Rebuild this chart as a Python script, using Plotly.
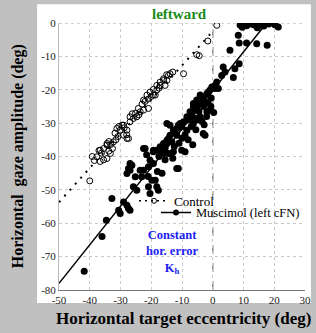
import plotly.graph_objects as go

# ---------------- data ----------------
control_x = [1.3, -1.6, -5.2, -4.4, -9.5, -13.0, -13.9, -14.4, -14.9, -16.0, -17.1, -15.5, -18.2,
             -16.0, -17.1, -18.2, -19.3, -18.7, -20.4, -21.4, -19.3, -20.9, -22.5, -23.6, -22.5,
             -24.2, -24.7, -25.8, -26.9, -26.9, -29.0, -27.9, -29.5, -29.0, -31.2, -27.4, -27.9,
             -28.0, -30.1, -30.8, -32.3, -31.5, -33.2, -32.6, -34.4, -34.4, -35.5, -33.8, -36.6,
             -33.3, -36.2, -34.4, -37.7, -36.6, -38.5, -35.5, -37.0, -40.0, -21.0, -23.0, -25.1,
             -26.2, -28.8, -30.5, -20.0, -22.0, -17.5, -15.0, -31.8, -33.8, -39.2, -24.0]
control_y = [-0.7, -5.4, -9.5, -9.8, -15.2, -14.7, -15.2, -15.7, -17.2, -16.7, -17.7, -18.7, -18.7,
             -17.2, -18.7, -20.1, -19.9, -21.6, -20.7, -21.6, -21.6, -25.6, -23.1, -26.6, -26.1,
             -25.6, -28.1, -28.6, -28.1, -29.6, -30.6, -32.1, -30.6, -33.6, -31.6, -34.6, -34.6,
             -33.5, -32.1, -34.0, -35.6, -35.0, -36.4, -37.6, -36.1, -36.6, -37.6, -38.4, -38.1,
             -39.1, -39.0, -40.6, -40.1, -41.5, -41.2, -41.0, -38.2, -47.3, -22.8, -24.3, -27.0,
             -27.2, -31.4, -31.0, -22.0, -23.5, -19.5, -15.5, -33.0, -35.5, -40.0, -27.5]

musc_x = [8.9, 10.0, 11.0, 12.2, 13.5, 15.4, 16.6, 18.2, 20.2, 21.3, 9.6, 14.5,
          8.3, 8.6, 11.0, 14.3, 17.7, 5.6, 8.6, 7.2, 3.4, 4.0, 2.9, 6.7, 1.3, 0.7, 0.6, -0.3,
          1.8, -0.9, -1.4, -1.9, -3.1, -4.1, -4.7, -3.6, -5.2, -5.2, -6.3, -6.3, -5.7, -0.9,
          -1.9, -7.4, -6.8, -4.1, -8.4, -7.9, -6.3, -9.5, -10.6, -11.2, -10.1, -11.7, -8.4,
          -12.8, -12.2, -3.1, -2.5, -11.7, -13.9, -14.4, -14.9, -13.3, -14.9, -16.0, -17.1,
          -15.5, -22.0, -22.5, -16.6, -18.2, -19.3, -19.3, -14.4, -16.0, -12.8, -10.1, -9.0,
          -14.9, -13.9, -20.4, -19.3, -20.9, -23.6, -26.9, -26.3, -27.4, -22.5, -26.9, -27.9,
          -25.2, -23.1, -19.8, -18.7, -11.2, -11.7, -18.2, -25.8, -20.9, -24.7, -17.7, -20.4,
          -32.8, -29.0, -27.9, -27.4, -30.6, -26.9, -30.1, -34.6, -36.0, -41.8,
          -2.5, -3.0, -4.5, -2.0, -3.5, -5.0, -6.0, -7.0, -5.5, -9.0, -10.0, -8.0, -11.0,
          -12.5, -6.5, -13.0, -15.5, -17.5, -21.5, -18.0, -16.5, -21.0, -0.5, -1.5, -2.8,
          0.3, -0.6]
musc_y = [-0.6, -0.4, -0.8, -0.3, -0.6, -0.4, -0.9, -0.3, -0.5, -1.2, -1.3, -1.4,
          -3.7, -6.0, -6.0, -6.2, -6.7, -8.2, -12.2, -13.7, -13.2, -14.7, -15.7, -16.3, -17.7,
          -18.7, -19.6, -19.2, -19.6, -20.1, -20.7, -21.1, -22.2, -21.6, -23.1, -24.1, -23.1,
          -24.6, -24.1, -25.1, -26.1, -26.1, -26.6, -26.6, -27.6, -28.1, -28.1, -29.1, -30.1,
          -29.6, -30.1, -30.6, -31.1, -31.6, -32.1, -32.1, -33.1, -33.1, -33.6, -33.6, -33.6,
          -34.6, -35.1, -35.6, -36.1, -36.1, -37.1, -37.6, -37.6, -37.6, -38.6, -38.1, -38.6,
          -38.1, -39.1, -39.1, -38.6, -38.1, -38.6, -30.1, -30.6, -41.1, -42.1, -43.1, -44.1,
          -42.1, -42.6, -43.6, -44.1, -44.1, -45.1, -46.1, -46.1, -47.1, -47.1, -43.6, -43.6,
          -49.1, -49.1, -49.1, -50.1, -50.1, -51.1, -52.6, -53.6, -54.6, -55.6, -56.1, -56.1,
          -57.1, -59.1, -64.0, -74.4,
          -23.5, -25.0, -26.5, -28.0, -29.5, -29.0, -28.5, -31.0, -32.0, -33.5, -34.5, -35.0,
          -36.0, -37.0, -36.5, -40.5, -41.0, -40.0, -39.5, -44.5, -45.0, -46.0, -22.5, -24.0,
          -30.5, -26.8, -25.0]

# fitted regression lines (endpoints)
control_fit_x = [-50, 0]
control_fit_y = [-53.7, -2.5]
musc_fit_x = [-50, 17.5]
musc_fit_y = [-78.0, 0.0]

x_ticks = [-50, -40, -30, -20, -10, 0, 10, 20, 30]
x_tick_labels = ["-50", "-40", "-30", "-20", "-10", "0", "10", "20", "30"]
y_ticks = [0, -10, -20, -30, -40, -50, -60, -70, -80]
y_tick_labels = ["0", "-10", "-20", "-30", "-40", "-50", "-60", "-70", "-80"]

SERIF = "Liberation Serif"

fig = go.Figure()

# regression lines
fig.add_trace(go.Scatter(x=control_fit_x, y=control_fit_y, mode="lines",
                         line=dict(color="black", width=2, dash="2px,6px"),
                         showlegend=False, hoverinfo="skip"))
fig.add_trace(go.Scatter(x=musc_fit_x, y=musc_fit_y, mode="lines",
                         line=dict(color="black", width=1.5),
                         showlegend=False, hoverinfo="skip"))

# scatter points
fig.add_trace(go.Scatter(x=control_x, y=control_y, mode="markers",
                         marker=dict(symbol="circle-open", size=6, color="black",
                                     line=dict(width=1, color="black")),
                         showlegend=False))
fig.add_trace(go.Scatter(x=musc_x, y=musc_y, mode="markers",
                         marker=dict(symbol="circle", size=7, color="black"),
                         showlegend=False))

# legend entries (two legends so their spacing can match the original)
fig.add_trace(go.Scatter(x=[None], y=[None], mode="lines+markers", name="Control",
                         line=dict(color="black", width=1.5, dash="2px,4px"),
                         marker=dict(symbol="circle-open", size=5, color="black"),
                         legend="legend"))
fig.add_trace(go.Scatter(x=[None], y=[None], mode="lines+markers", name="Muscimol (left cFN)",
                         line=dict(color="black", width=1.5),
                         marker=dict(symbol="circle", size=6, color="black"),
                         legend="legend2"))

# white panel behind the plot
fig.add_shape(type="rect", xref="paper", yref="paper", x0=-0.089, x1=1.024,
              y0=-0.049, y1=1.07, fillcolor="white", line=dict(width=0), layer="below")
# vertical dashed line at 0
fig.add_shape(type="line", xref="x", yref="y", x0=0, x1=0, y0=-80, y1=0,
              line=dict(color="#8a8a8a", width=1.5, dash="dash"), layer="below")
# top dotted border
fig.add_shape(type="line", xref="x", yref="y", x0=-50, x1=30, y0=0, y1=0,
              line=dict(color="#aaaaaa", width=1, dash="dot"), layer="below")

fig.add_annotation(text="<b>leftward</b>", xref="paper", yref="paper", x=0.49, y=1.034,
                   xanchor="center", yanchor="middle",
                   showarrow=False, font=dict(family=SERIF, size=15, color="#1a8c1a"))
fig.add_annotation(text="<b>Constant<br>hor. error<br>K<sub>h</sub></b>", xref="x", yref="y",
                   x=-13.2, y=-68.5, xanchor="center", yanchor="middle",
                   showarrow=False, align="center",
                   font=dict(family=SERIF, size=12.5, color="#2020ee"))
fig.add_annotation(text="<b>Horizontal  gaze amplitude (deg)</b>", xref="paper", yref="paper",
                   x=-0.168, y=0.5, xanchor="center", yanchor="middle", textangle=-90,
                   showarrow=False, font=dict(family=SERIF, size=16, color="black"))
fig.add_annotation(text="<b>Horizontal target eccentricity (deg)</b>", xref="paper", yref="paper",
                   x=0.505, y=-0.105, xanchor="center", yanchor="middle", showarrow=False,
                   font=dict(family=SERIF, size=17, color="black"))

legend_font = dict(family=SERIF, size=13, color="black")
fig.update_layout(
    width=316, height=333, autosize=False,
    margin=dict(l=59, r=11, t=23, b=43),
    paper_bgcolor="#c0c0c0",
    plot_bgcolor="white",
    showlegend=True,
    legend=dict(x=0.305, y=0.39, xanchor="left", yanchor="top",
                bgcolor="rgba(0,0,0,0)", font=legend_font, itemwidth=30),
    legend2=dict(x=1.0, y=0.345, xanchor="right", yanchor="top",
                 bgcolor="rgba(0,0,0,0)", font=dict(family=SERIF, size=12.5, color="black"),
                 itemwidth=30),
    font=dict(family=SERIF, color="black"),
)
fig.update_xaxes(range=[-50, 30], tickvals=x_ticks, ticktext=x_tick_labels,
                 showgrid=True, gridcolor="#c8c8c8", griddash="dot", gridwidth=1,
                 zeroline=False, showline=True, linecolor="#777777", linewidth=1,
                 ticks="", automargin=False, tickfont=dict(family=SERIF, size=11, color="#222222"))
fig.update_yaxes(range=[-80, 0], tickvals=y_ticks, ticktext=y_tick_labels,
                 showgrid=True, gridcolor="#c8c8c8", griddash="dot", gridwidth=1,
                 zeroline=False, showline=True, linecolor="#bbbbbb", linewidth=1,
                 ticks="", automargin=False, tickfont=dict(family=SERIF, size=11, color="#222222"))

fig.write_html("out.html", config={"responsive": False, "displayModeBar": False},
               post_script="document.body.style.margin='0';")
